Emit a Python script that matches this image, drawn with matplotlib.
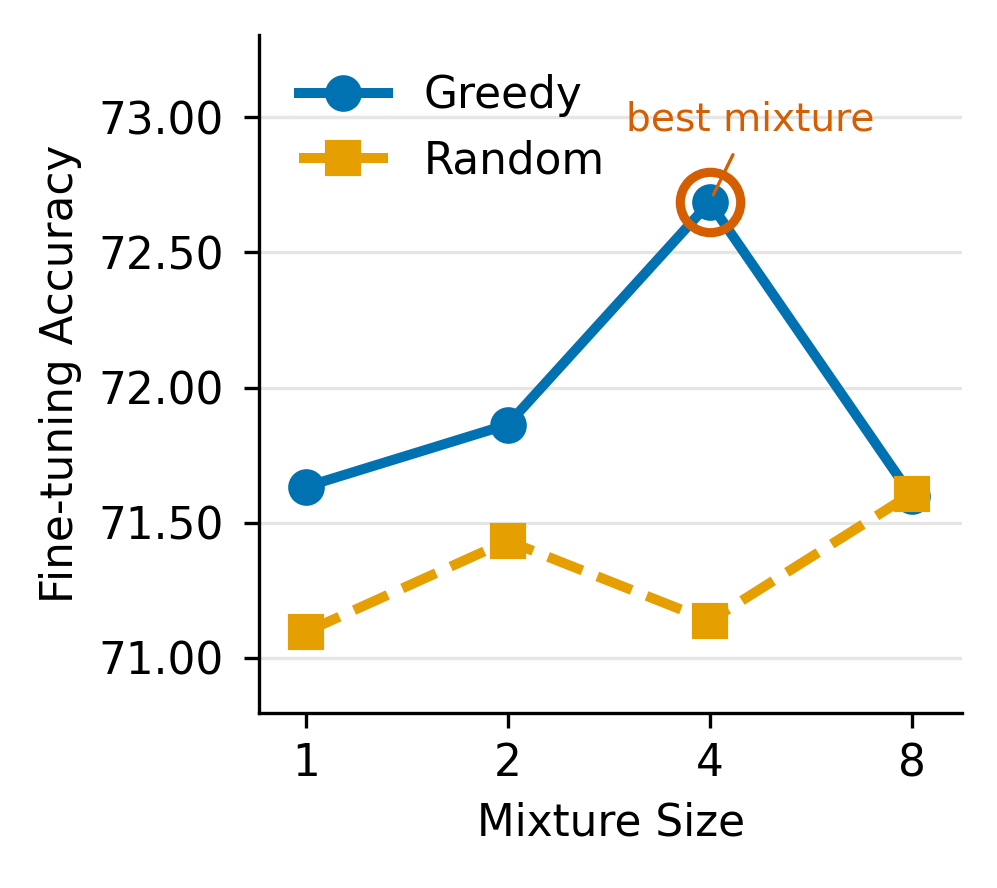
import numpy as np
import matplotlib
matplotlib.use("Agg")
import matplotlib.pyplot as plt
from matplotlib.ticker import FormatStrFormatter

# data
mixture_sizes = [1, 2, 4, 8]
greedy_acc = [71.633, 71.863, 72.685, 71.60]
random_acc = [71.096, 71.433, 71.137, 71.607]
best_idx = 2

blue = "#0072B2"
orange = "#E69F00"
red = "#D55E00"

plt.rcParams["font.family"] = "DejaVu Sans"
plt.rcParams["font.size"] = 10.5

fig = plt.figure(figsize=(997 / 300, 888 / 300), dpi=300)
ax = fig.add_axes([0.26, 0.197, 0.705, 0.7636])

xpos = np.arange(len(mixture_sizes))
ax.plot(xpos, greedy_acc, "-o", color=blue, lw=2.4, ms=7.8, label="Greedy", zorder=3)
ax.plot(xpos, random_acc, "--s", color=orange, lw=2.4, ms=7.8, label="Random", zorder=4)

# highlight best mixture
ax.plot(xpos[best_idx], greedy_acc[best_idx], "o", ms=14.5, mfc="none",
        mec=red, mew=2.2, zorder=5)
ax.annotate("best mixture", xy=(xpos[best_idx], greedy_acc[best_idx]),
            xytext=(xpos[best_idx] + 0.2, 72.99), ha="center", va="center",
            color=red, fontsize=9.4,
            arrowprops=dict(arrowstyle="-", color=red, lw=0.8,
                            shrinkA=2, shrinkB=2))

ax.set_xticks(xpos)
ax.set_xticklabels([str(m) for m in mixture_sizes])
ax.set_xlim(-0.23, 3.25)
ax.set_ylim(70.796, 73.304)
ax.set_yticks([71.0, 71.5, 72.0, 72.5, 73.0])
ax.yaxis.set_major_formatter(FormatStrFormatter("%.2f"))
ax.tick_params(axis="y", pad=5)
ax.set_xlabel("Mixture Size")
ax.set_ylabel("Fine-tuning Accuracy")
ax.grid(axis="y", color="#e6e6e6", lw=0.8)
ax.set_axisbelow(True)
for s in ["top", "right"]:
    ax.spines[s].set_visible(False)

ax.legend(loc="upper left", frameon=False, handlelength=2.05)

fig.savefig("out.png", dpi=300)
